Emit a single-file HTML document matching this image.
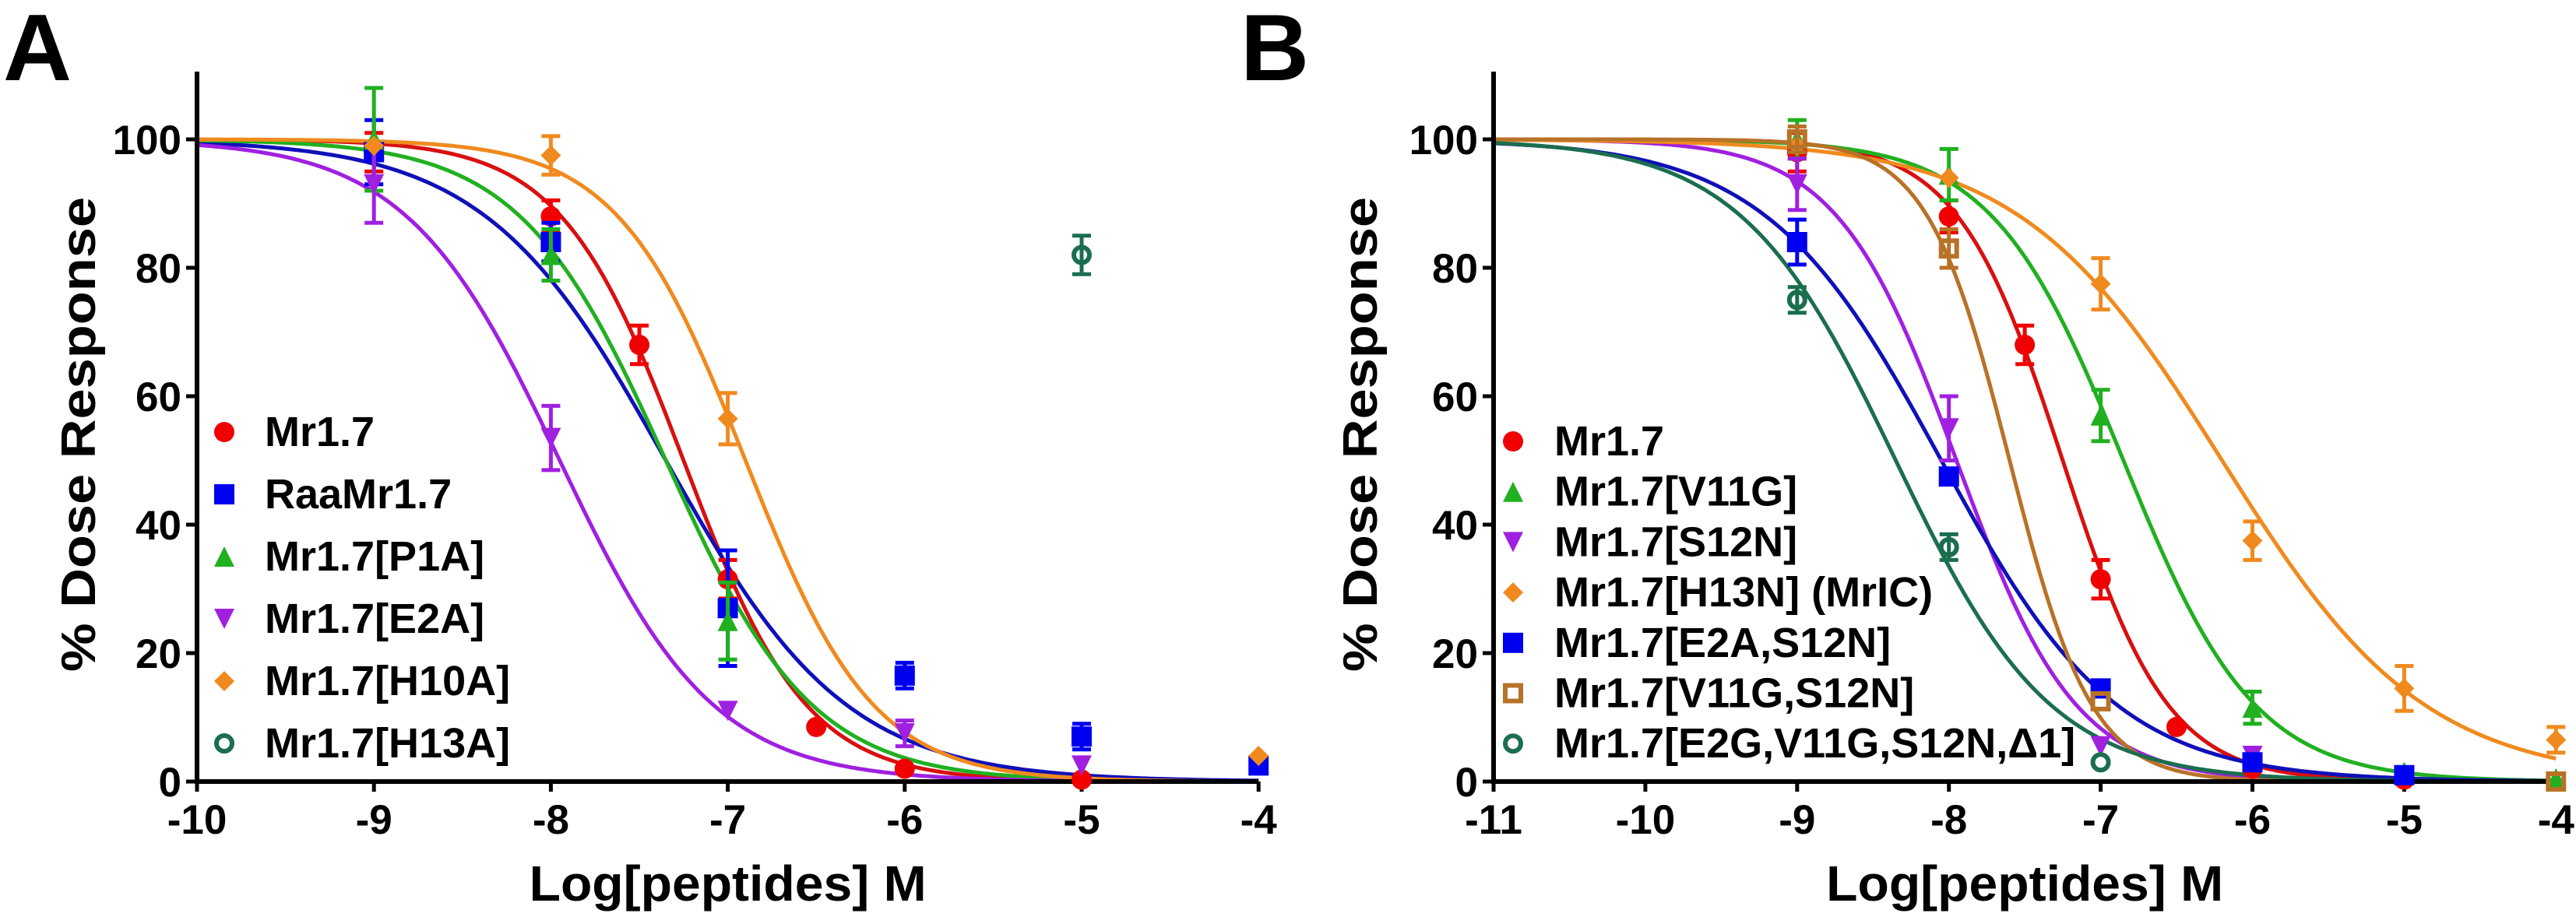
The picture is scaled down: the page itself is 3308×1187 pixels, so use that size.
<!DOCTYPE html>
<html><head><meta charset="utf-8">
<style>
html,body{margin:0;padding:0;background:#fff;}
svg{display:block;font-family:"Liberation Sans",Arial,sans-serif;font-weight:bold;}
</style></head>
<body>
<svg id="fig" width="3308" height="1187" viewBox="0 0 3308 1187" xmlns="http://www.w3.org/2000/svg">
<text x="4" y="103" font-size="122">A</text>
<text x="1593" y="103" font-size="122">B</text>
</svg>
<script>
// ---------- Panel A data ----------
const aXTicks = [-10,-9,-8,-7,-6,-5,-4];
const aYTicks = [0,20,40,60,80,100];
const aNames = ["Mr1.7","RaaMr1.7","Mr1.7[P1A]","Mr1.7[E2A]","Mr1.7[H10A]","Mr1.7[H13A]"];
const aMr17X = [-9,-8,-7.5,-7,-6.5,-6,-5];
const aMr17Y = [98,88,68,31.5,8.5,2,0.3];
const aMr17E = [3,2.5,3,3,0,0,0];
const aRaaX = [-9,-8,-7,-6,-5,-4];
const aRaaY = [98,84,27,16.5,7,2.5];
const aRaaE = [5,3,9,2,2,0];
const aP1AX = [-9,-8,-7];
const aP1AY = [100,82,25];
const aP1AE = [8,4,6];
const aE2AX = [-9,-8,-7,-6,-5];
const aE2AY = [93,53.5,11,7.5,2.5];
const aE2AE = [6,5,0,2,0];
const aH10AX = [-9,-8,-7,-4];
const aH10AY = [99,97.5,56.5,4];
const aH10AE = [0,3,4,0];
const aH13AX = [-5];
const aH13AY = [82];
const aH13AE = [3];
const aLogIC50 = [-7.25,-7.35,-7.35,-7.95,-6.9,null];
const aHill = [1.25,0.85,1.05,1.0,1.2,null];

// ---------- Panel B data ----------
const bXTicks = [-11,-10,-9,-8,-7,-6,-5,-4];
const bYTicks = [0,20,40,60,80,100];
const bNames = ["Mr1.7","Mr1.7[V11G]","Mr1.7[S12N]","Mr1.7[H13N] (MrIC)","Mr1.7[E2A,S12N]","Mr1.7[V11G,S12N]","Mr1.7[E2G,V11G,S12N,\u03941]"];
const bMr17X = [-9,-8,-7.5,-7,-6.5,-6,-5];
const bMr17Y = [98,88,68,31.5,8.5,2,0.3];
const bMr17E = [3,2.5,3,3,0,0,0];
const bV11GX = [-9,-8,-7,-6,-5,-4];
const bV11GY = [100,94.5,57,11.5,1.5,0.5];
const bV11GE = [3,4,4,2.5,0,0];
const bS12NX = [-9,-8,-7,-6];
const bS12NY = [93,55,5.5,4];
const bS12NE = [4,5,0,0];
const bH13NX = [-9,-8,-7,-6,-5,-4];
const bH13NY = [99,94,77.5,37.5,14.5,6.5];
const bH13NE = [0,0,4,3,3.5,2];
const bE2AS12NX = [-9,-8,-7,-6,-5];
const bE2AS12NY = [84,47.5,14.5,3,1];
const bE2AS12NE = [3.5,0,0,0,0];
const bV11GS12NX = [-9,-8,-7,-4];
const bV11GS12NY = [100,83,12.5,0];
const bV11GS12NE = [2,3,0,0];
const bE2GX = [-9,-8,-7];
const bE2GY = [75,36.5,3];
const bE2GE = [2,2,0];
const bLogIC50 = [-7.25,-6.85,-7.95,-6.2,-8.05,-7.6,-8.35];
const bHill = [1.25,1.0,1.1,0.65,0.75,1.6,0.85];

const NS="http://www.w3.org/2000/svg";
const svg=document.getElementById('fig');
function mk(tag,attrs,parent){const e=document.createElementNS(NS,tag);for(const k in attrs)e.setAttribute(k,attrs[k]);(parent||svg).appendChild(e);return e;}

function drawPanel(cfg){
  const g=mk('g',{});
  
  
  const x0=cfg.x0, unit=cfg.unit, xmin=cfg.xTicks[0], xmax=cfg.xTicks[cfg.xTicks.length-1];
  const X=v=>x0+(v-xmin)*unit;
  const Y=v=>1004-v*8.25;
  cfg.series.forEach((s,i)=>{
    if(s.ic==null)return;
    let d='';
    for(let k=0;k<=300;k++){const xv=xmin+(xmax-xmin)*k/300;const yv=100/(1+Math.pow(10,(xv-s.ic)*s.h));d+=(k?'L':'M')+X(xv).toFixed(1)+','+Y(yv).toFixed(1);}
    const p=mk('path',{d:d,fill:'none',stroke:s.line,'stroke-width':5},g);
    
    
  });
  const ax=mk('path',{d:`M${X(xmin)},92 L${X(xmin)},1004 L${X(xmax)},1004`,fill:'none',stroke:'#000','stroke-width':6},g);
  
  
  cfg.yTicks.forEach(t=>{
    mk('line',{x1:X(xmin)-14,x2:X(xmin),y1:Y(t),y2:Y(t),stroke:'#000','stroke-width':5},g);
    const tx=mk('text',{x:X(xmin)-20,y:Y(t)+19,'font-size':53,'text-anchor':'end'},g);
    
    
    tx.textContent=t;
  });
  cfg.xTicks.forEach(t=>{
    mk('line',{x1:X(t),x2:X(t),y1:1004,y2:1017,stroke:'#000','stroke-width':5},g);
    const tx=mk('text',{x:X(t),y:1071,'font-size':53,'text-anchor':'middle'},g);
    
    
    tx.textContent=t;
  });
  const xt=mk('text',{x:(X(xmin)+X(xmax))/2,y:1157,'font-size':64,'text-anchor':'middle',textLength:510,lengthAdjust:'spacingAndGlyphs'},g);
  
  
  xt.textContent='Log[peptides] M';
  const yt=mk('text',{x:0,y:0,'font-size':62,'text-anchor':'middle',transform:`translate(${cfg.ytx},558) rotate(-90)`,textLength:610,lengthAdjust:'spacingAndGlyphs'},g);
  
  
  yt.textContent='% Dose Response';
  cfg.series.forEach((s,i)=>{
    s.xs.forEach((xv,j)=>{
      const cx=X(xv), cy=Y(s.ys[j]), e=s.es[j];
      if(e>0){
        const eb=mk('path',{d:`M${cx},${Y(s.ys[j]+e)}L${cx},${Y(s.ys[j]-e)}M${cx-12},${Y(s.ys[j]+e)}L${cx+12},${Y(s.ys[j]+e)}M${cx-12},${Y(s.ys[j]-e)}L${cx+12},${Y(s.ys[j]-e)}`,stroke:s.color,'stroke-width':5,fill:'none'},g);
        
        
      }
      const m=marker(s.shape,cx,cy,s.color,g,13);
      
      
    });
  });
  cfg.series.forEach((s,i)=>{
    const by=cfg.legY+i*cfg.legDy;
    const m=marker(s.shape,cfg.legMx,by-18,s.color,g,13);
    
    
    const t=mk('text',{x:cfg.legTx,y:by,'font-size':54},g);
    
    
    t.textContent=s.name;
  });
}
function marker(shape,cx,cy,col,g,r){
  if(shape==='circle')return mk('circle',{cx:cx,cy:cy,r:r,fill:col},g);
  if(shape==='ocircle')return mk('circle',{cx:cx,cy:cy,r:r-3,fill:'none',stroke:col,'stroke-width':6},g);
  if(shape==='square')return mk('rect',{x:cx-r,y:cy-r,width:2*r,height:2*r,fill:col},g);
  if(shape==='osquare')return mk('rect',{x:cx-r+3,y:cy-r+3,width:2*r-6,height:2*r-6,fill:'none',stroke:col,'stroke-width':6},g);
  if(shape==='tri')return mk('path',{d:`M${cx},${cy-r}L${cx+r},${cy+r}L${cx-r},${cy+r}Z`,fill:col},g);
  if(shape==='dtri')return mk('path',{d:`M${cx-r},${cy-r}L${cx+r},${cy-r}L${cx},${cy+r}Z`,fill:col},g);
  if(shape==='diamond')return mk('path',{d:`M${cx},${cy-r}L${cx+r},${cy}L${cx},${cy+r}L${cx-r},${cy}Z`,fill:col},g);
}
const RED='#f00000',BLUE='#0000f0',GREEN='#20b020',PURP='#a020e0',ORANGE='#f08a1e',DG='#1b6e4e',BROWN='#b87228';
drawPanel({id:'panel-a',x0:253,unit:227.2,xTicks:aXTicks,yTicks:aYTicks,ytx:122,legY:573,legDy:80,legMx:288,legTx:340,series:[
 {name:aNames[0],xs:aMr17X,ys:aMr17Y,es:aMr17E,shape:'circle',color:RED,line:'#d81010',ic:aLogIC50[0],h:aHill[0]},
 {name:aNames[1],xs:aRaaX,ys:aRaaY,es:aRaaE,shape:'square',color:BLUE,line:'#1010b8',ic:aLogIC50[1],h:aHill[1]},
 {name:aNames[2],xs:aP1AX,ys:aP1AY,es:aP1AE,shape:'tri',color:GREEN,line:GREEN,ic:aLogIC50[2],h:aHill[2]},
 {name:aNames[3],xs:aE2AX,ys:aE2AY,es:aE2AE,shape:'dtri',color:PURP,line:PURP,ic:aLogIC50[3],h:aHill[3]},
 {name:aNames[4],xs:aH10AX,ys:aH10AY,es:aH10AE,shape:'diamond',color:ORANGE,line:ORANGE,ic:aLogIC50[4],h:aHill[4]},
 {name:aNames[5],xs:aH13AX,ys:aH13AY,es:aH13AE,shape:'ocircle',color:DG,line:DG,ic:aLogIC50[5],h:aHill[5]}
]});
drawPanel({id:'panel-b',x0:1918,unit:194.9,xTicks:bXTicks,yTicks:bYTicks,ytx:1768,legY:585,legDy:64.7,legMx:1943,legTx:1996,series:[
 {name:bNames[0],xs:bMr17X,ys:bMr17Y,es:bMr17E,shape:'circle',color:RED,line:'#d81010',ic:bLogIC50[0],h:bHill[0]},
 {name:bNames[1],xs:bV11GX,ys:bV11GY,es:bV11GE,shape:'tri',color:GREEN,line:GREEN,ic:bLogIC50[1],h:bHill[1]},
 {name:bNames[2],xs:bS12NX,ys:bS12NY,es:bS12NE,shape:'dtri',color:PURP,line:PURP,ic:bLogIC50[2],h:bHill[2]},
 {name:bNames[3],xs:bH13NX,ys:bH13NY,es:bH13NE,shape:'diamond',color:ORANGE,line:ORANGE,ic:bLogIC50[3],h:bHill[3]},
 {name:bNames[4],xs:bE2AS12NX,ys:bE2AS12NY,es:bE2AS12NE,shape:'square',color:BLUE,line:'#1010b8',ic:bLogIC50[4],h:bHill[4]},
 {name:bNames[5],xs:bV11GS12NX,ys:bV11GS12NY,es:bV11GS12NE,shape:'osquare',color:BROWN,line:BROWN,ic:bLogIC50[5],h:bHill[5]},
 {name:bNames[6],xs:bE2GX,ys:bE2GY,es:bE2GE,shape:'ocircle',color:DG,line:DG,ic:bLogIC50[6],h:bHill[6]}
]});
</script>
</body></html>
